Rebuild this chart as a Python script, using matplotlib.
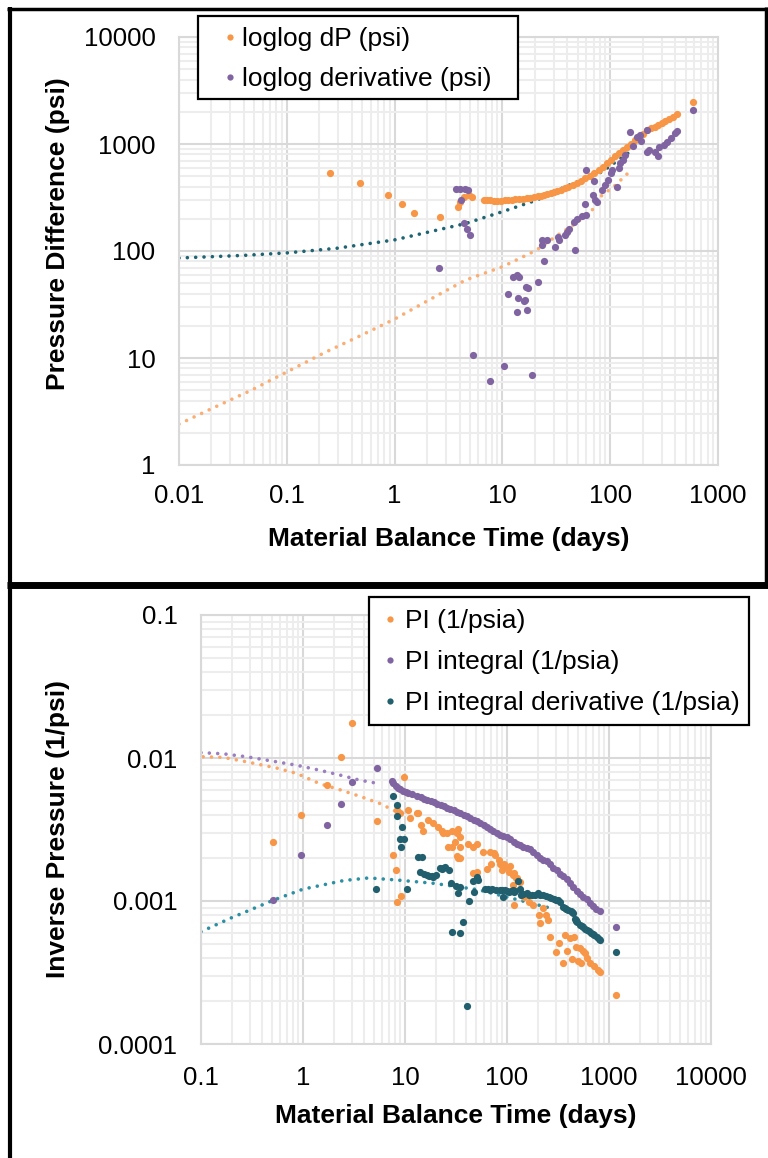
import matplotlib
matplotlib.use("Agg")
import matplotlib.pyplot as plt
from matplotlib.lines import Line2D
from matplotlib.patches import Rectangle

plt.rcParams['font.family'] = ['Liberation Sans', 'DejaVu Sans']

ORANGE = '#F79646'
PURPLE = '#8064A2'
TEAL = '#215F6E'

# ---------------- top chart data ----------------
dp_t = [0.25, 0.48, 0.86, 1.17, 1.51, 2.63, 3.85, 4.05, 4.37, 4.9, 5.2,
        6.7, 7.2, 7.7, 8.3, 9.0, 9.7, 10.5, 11.3, 12.2, 13.2, 14.3, 15.5,
        16.8, 18.2, 19.7, 21.2, 22.8, 24.5, 26, 28, 30, 32, 35, 38, 41, 45,
        49, 54, 59, 65, 71, 78, 85, 93, 101, 110, 120, 131, 143, 156, 170,
        186, 203, 220, 240, 260, 280, 300, 325, 350, 380, 414, 590]
dp_val = [532, 435, 333, 275, 228, 207, 259, 289, 322, 333, 322,
          300, 298, 297, 296, 296, 296, 297, 298, 300, 303, 306, 309,
          312, 316, 320, 325, 330, 336, 343, 350, 356, 362, 372, 385, 397, 412,
          430, 455, 480, 505, 535, 570, 615, 660, 710, 765, 820, 880, 945, 1010, 1080,
          1150, 1230, 1340, 1400, 1450, 1520, 1580, 1650, 1720, 1800, 1890, 2470]

der_t = [2.6, 3.73, 4.04, 4.5, 4.8, 4.15, 4.37, 4.67, 4.97, 5.3, 7.7, 10.4, 18.8,
         11.2, 12.5, 13.6, 14.4, 14.1, 16.6, 17.1, 13.7, 16.9, 16.1, 15.8,
         21.3, 24.2, 23.1, 26, 23.5, 30.5, 33.7, 33, 38, 39.4, 41.5, 46.5, 49.5,
         54.5, 60, 47.5, 58.7, 69, 71.6, 76, 70, 60, 84.5, 89.6, 96, 101, 103,
         116, 121, 124.6, 131, 138, 153, 163, 178, 187, 192, 221, 221, 231, 260,
         275, 286, 313, 338, 366, 395, 414, 590]
der_val = [69, 376, 376, 376, 372, 300, 182, 162, 141, 10.7, 6.1, 8.4, 6.9,
           39.6, 57.5, 60, 57.5, 36, 46.5, 44.7, 27.2, 28.2, 35, 34,
           51.7, 80, 126, 126, 114, 110, 126, 136, 140, 151, 162, 187, 197,
           213, 217, 102, 276, 334, 299, 288, 450, 566, 372, 417, 465, 532, 574,
           400, 592, 660, 710, 790, 1300, 960, 1170, 1220, 1070, 1350, 850, 880, 850,
           775, 945, 980, 1050, 1130, 1260, 1330, 2080]

# trendlines
dp_trend_t = [0.01, 0.0213, 0.0469, 0.0998, 0.227, 0.46, 1.0, 2.1, 4.55, 10.1,
              20.4, 33, 48.3, 68, 81, 108, 148]
dp_trend_val = [2.41, 3.46, 5.0, 7.4, 11.3, 15.8, 23.1, 35, 53.5, 71.5,
                101, 142, 182, 241, 322, 400, 540]
der_trend_t = [0.01, 0.04, 0.1, 0.29, 1.0, 2.1, 4.5, 10, 21, 30, 46, 84, 146]
der_trend_val = [86, 91, 96, 106, 127, 151, 180, 233, 300, 358, 430, 550, 820]

top_xticks = [0.01, 0.1, 1, 10, 100, 1000]
top_xlabels = ['0.01', '0.1', '1', '10', '100', '1000']
top_yticks = [1, 10, 100, 1000, 10000]
top_ylabels = ['1', '10', '100', '1000', '10000']

# ---------------- bottom chart data ----------------
pi_t = [0.51, 0.96, 1.71, 2.34, 3.04, 5.3, 9.8, 7.7, 8.2, 8.4, 9.2, 8.3, 8.9,
        10.8, 11.1, 13.0, 13.4, 14.5, 15, 16.9, 18.9, 21.1, 23, 23.7, 25.6, 28.6,
        32, 33.3, 34.6, 30.9, 28.6, 26.6, 34.6, 34.6, 33.3, 32.3, 41.7, 46.7,
        50.5, 58.6, 68.3, 76.6, 82.8, 92.9, 89.4, 108, 117, 126, 50.5, 46.6,
        63.2, 69, 75, 84.6, 96, 104, 114, 114, 123, 134, 117, 148, 166, 181,
        205, 223, 241, 251, 210, 266, 327, 302, 355, 370, 419, 454, 386, 436,
        473, 514, 557, 580, 493, 535, 605, 657, 713, 774, 820, 1166]
pi_val = [0.0026, 0.0040, 0.0065, 0.0101, 0.0177, 0.0036, 0.0074, 0.0021,
          0.00165, 0.00098, 0.00109, 0.0043, 0.0041, 0.0043, 0.0038, 0.0041,
          0.0041, 0.0034, 0.0031, 0.0037, 0.0035, 0.0033, 0.0031, 0.0030,
          0.0030, 0.0031, 0.0030, 0.0032, 0.0028, 0.0026, 0.0024, 0.0024,
          0.0024, 0.0020, 0.0020, 0.00205, 0.0025, 0.0024, 0.0025, 0.0022,
          0.0022, 0.0021, 0.00195, 0.0018, 0.00164, 0.00175, 0.00158, 0.00145,
          0.0016, 0.00158, 0.00168, 0.0018, 0.00217, 0.0018, 0.00173, 0.0016,
          0.00152, 0.0013, 0.00145, 0.00135, 0.00094, 0.00107, 0.00099, 0.00094,
          0.0008, 0.00089, 0.0008, 0.00074, 0.0007, 0.00056, 0.00051, 0.00044,
          0.00037, 0.00058, 0.00055, 0.00056, 0.00045, 0.00039, 0.00048, 0.00047,
          0.00045, 0.00043, 0.00038, 0.00037, 0.0004, 0.00037, 0.00035, 0.00033,
          0.00032, 0.00022]

pint_t = [0.51, 0.96, 1.71, 2.34, 3.04, 5.3,
          7.4, 7.7, 8.1, 8.5, 8.9, 9.5, 10.2, 10.6, 11.6, 13.2, 14.2, 15.3,
          16.5, 17.8, 19.2, 20.7, 22.3, 24.0, 25.8, 27.8, 30.0, 32.3, 34.8,
          37.5, 40.5, 43.6, 47.0, 50.7, 54.6, 58.9, 63.5, 68.4, 73.7, 79.5,
          85.7, 92.3, 99.5, 107, 116, 125, 135, 145, 156, 168, 181, 196, 211,
          227, 245, 264, 285, 307, 331, 356, 384, 414, 446, 481, 518, 558, 602,
          649, 699, 754, 812, 1166]
pint_val = [0.00101, 0.0021, 0.0034, 0.0048, 0.0068, 0.0085,
            0.0069, 0.0067, 0.0064, 0.0062, 0.0061, 0.0059, 0.0058, 0.0057,
            0.0056, 0.0054, 0.0053, 0.0052, 0.0051, 0.0050, 0.0049, 0.0048,
            0.0047, 0.0046, 0.0045, 0.0044, 0.0043, 0.0042, 0.0041, 0.0040,
            0.0039, 0.0038, 0.0037, 0.0036, 0.0035, 0.0034, 0.0033, 0.0032,
            0.0031, 0.0030, 0.0029, 0.00285, 0.0028, 0.0027, 0.0026, 0.0025,
            0.00245, 0.0024, 0.00235, 0.0023, 0.0022, 0.0021, 0.0020, 0.00195,
            0.0019, 0.0018, 0.0017, 0.00165, 0.00155, 0.0015, 0.00142, 0.00133,
            0.00125, 0.00118, 0.00112, 0.00106, 0.00103, 0.00097, 0.00092,
            0.00088, 0.00085, 0.00066]

pder_t = [5.2, 10.4, 40.5, 29, 34.9, 36.7, 42, 7.7, 8.4, 8.3, 9.3, 8.9, 9.8,
          9.1, 13.3, 14.8, 14.0, 15.5, 16.4, 17, 18.5, 19, 20.1, 21.9, 22.8,
          23.5, 24.8, 26.8, 28, 31.7, 33.1, 34.5, 46.1, 52, 47.8, 51, 61, 65,
          68, 72, 78, 85, 90, 96, 100, 104, 110, 114, 92, 117, 121, 133, 128,
          138, 145, 156, 165, 177, 188, 200, 212, 227, 240, 256, 270, 290, 300,
          314, 330, 352, 370, 380, 400, 420, 435, 440, 460, 470, 480, 490, 517,
          540, 560, 580, 610, 640, 670, 700, 720, 760, 790, 812, 1166]
pder_val = [0.00122, 0.00122, 0.000184, 0.00061, 0.0006, 0.00071, 0.001,
            0.0054, 0.0047, 0.0039, 0.0033, 0.0027, 0.0027, 0.0024, 0.00202,
            0.00202, 0.0016, 0.00155, 0.00153, 0.0015, 0.0015, 0.00148,
            0.00153, 0.0017, 0.00168, 0.0017, 0.00172, 0.00164, 0.00133,
            0.00127, 0.00113, 0.00125, 0.00137, 0.0014, 0.00116, 0.00148,
            0.00122, 0.00122, 0.0012, 0.00122, 0.0012, 0.0012, 0.0012, 0.00119,
            0.00118, 0.00116, 0.00118, 0.0012, 0.00106, 0.00116, 0.00117,
            0.00122, 0.00137, 0.0011, 0.00112, 0.00113, 0.0011, 0.0011, 0.00111,
            0.00113, 0.0011, 0.0011, 0.00108, 0.00106, 0.00105, 0.00103,
            0.00102, 0.00101, 0.00098, 0.00091, 0.0009, 0.00088, 0.00087,
            0.00085, 0.00084, 0.00083, 0.00075, 0.00074, 0.00072, 0.00071,
            0.00068, 0.00067, 0.00066, 0.00064, 0.00063, 0.00062, 0.0006,
            0.00059, 0.00058, 0.00056, 0.00054, 0.00053, 0.00044]

pi_trend_t = [0.105, 0.165, 0.281, 0.553, 0.867, 1.47, 2.3, 3.6, 5.7, 8.9]
pi_trend_val = [0.0102, 0.0101, 0.0094, 0.0085, 0.0078, 0.0066, 0.0060,
                0.0054, 0.0048, 0.0041]
pint_trend_t = [0.1, 0.165, 0.281, 0.553, 0.867, 1.47, 2.3, 3.6, 5.7]
pint_trend_val = [0.0109, 0.0107, 0.0102, 0.0094, 0.0089, 0.0082, 0.0076,
                  0.0070, 0.0066]
pder_trend_t = [0.1, 0.196, 0.525, 1.0, 2.5, 4.4, 8.5, 19, 52, 270]
pder_trend_val = [0.00061, 0.00076, 0.00102, 0.00121, 0.00139, 0.00145,
                  0.0014, 0.00133, 0.0012, 0.00089]

bot_xticks = [0.1, 1, 10, 100, 1000, 10000]
bot_xlabels = ['0.1', '1', '10', '100', '1000', '10000']
bot_yticks = [0.0001, 0.001, 0.01, 0.1]
bot_ylabels = ['0.0001', '0.001', '0.01', '0.1']

W, H = 768, 1158
fig = plt.figure(figsize=(W / 100, H / 100), dpi=100)


def style_axes(ax):
    ax.set_xscale('log')
    ax.set_yscale('log')
    ax.grid(True, which='major', color='#D9D9D9', lw=1.5, zorder=0)
    ax.grid(True, which='minor', color='#EDEDED', lw=1.5, zorder=0)
    ax.set_axisbelow(True)
    for s in ax.spines.values():
        s.set_color('#D9D9D9')
        s.set_linewidth(1.5)
    ax.tick_params(which='both', length=0, labelsize=18.5)


def dotted(ax, x, y, color):
    ax.plot(x, y, color=color, lw=2.6, linestyle=(0, (0.01, 2.3)),
            dash_capstyle='round', zorder=2)


def dots(ax, x, y, color):
    ax.plot(x, y, 'o', color=color, ms=5.2, mec='none', zorder=3)


def legend_box(x0, y0, x1, y1):
    fig.add_artist(Rectangle((x0 / W, 1 - y1 / H), (x1 - x0) / W, (y1 - y0) / H,
                             transform=fig.transFigure, facecolor='white',
                             edgecolor='black', lw=1.6, zorder=4))


def handle(color):
    return Line2D([], [], marker='o', ls='none', color=color, ms=4.5, mec='none')


# ---------- top ----------
ax1 = fig.add_axes([179 / W, 1 - 465 / H, 539 / W, 428 / H])
style_axes(ax1)
dotted(ax1, dp_trend_t, dp_trend_val, '#FAAE74')
dotted(ax1, der_trend_t, der_trend_val, '#1F6473')
dots(ax1, dp_t, dp_val, ORANGE)
dots(ax1, der_t, der_val, PURPLE)
ax1.set_xlim(0.01, 1000)
ax1.set_ylim(1, 10000)
ax1.set_xticks(top_xticks, top_xlabels)
ax1.set_yticks(top_yticks, top_ylabels)
ax1.tick_params(axis='x', pad=14)
ax1.tick_params(axis='y', pad=17)
ax1.set_xlabel('Material Balance Time (days)', fontsize=19, fontweight='bold')
ax1.set_ylabel('Pressure Difference (psi)', fontsize=19, fontweight='bold')
ax1.xaxis.set_label_coords(0.5, -0.145)
ax1.yaxis.set_label_coords(-0.202, 0.54)

legend_box(198, 16, 518, 99)
leg1 = fig.legend([handle(ORANGE), handle(PURPLE)],
                  ['loglog dP (psi)', 'loglog derivative (psi)'],
                  loc='upper left', bbox_to_anchor=(223.4 / W, 1 - 27 / H),
                  fontsize=19, frameon=False, borderpad=0, labelspacing=0.6,
                  handlelength=0.5, handletextpad=0.2, borderaxespad=0)
leg1.set_zorder(5)

# ---------- bottom ----------
ax2 = fig.add_axes([201 / W, 1 - 1044 / H, 510 / W, 429 / H])
style_axes(ax2)
dotted(ax2, pi_trend_t, pi_trend_val, '#F9A869')
dotted(ax2, pint_trend_t, pint_trend_val, '#9B7FC0')
dotted(ax2, pder_trend_t, pder_trend_val, '#2C8FA3')
dots(ax2, pi_t, pi_val, ORANGE)
dots(ax2, pint_t, pint_val, PURPLE)
dots(ax2, pder_t, pder_val, TEAL)
ax2.set_xlim(0.1, 10000)
ax2.set_ylim(0.0001, 0.1)
ax2.set_xticks(bot_xticks, bot_xlabels)
ax2.set_yticks(bot_yticks, bot_ylabels)
ax2.tick_params(axis='x', pad=16)
ax2.tick_params(axis='y', pad=17)
ax2.set_xlabel('Material Balance Time (days)', fontsize=19, fontweight='bold')
ax2.set_ylabel('Inverse Pressure (1/psi)', fontsize=19, fontweight='bold')
ax2.xaxis.set_label_coords(0.5, -0.140)
ax2.yaxis.set_label_coords(-0.257, 0.5)

legend_box(369, 597, 749, 725)
leg2 = fig.legend([handle(ORANGE), handle(PURPLE), handle(TEAL)],
                  ['PI (1/psia)', 'PI integral (1/psia)',
                   'PI integral derivative (1/psia)'],
                  loc='upper left', bbox_to_anchor=(382 / W, 1 - 609 / H),
                  fontsize=19, frameon=False, borderpad=0, labelspacing=0.64,
                  handlelength=0.6, handletextpad=0.27, borderaxespad=0)
leg2.set_zorder(5)

# ---------- panel borders ----------
def fig_line(x0, y0, x1, y1, lw):
    fig.add_artist(Line2D([x0 / W, x1 / W], [1 - y0 / H, 1 - y1 / H],
                          color='black', lw=lw, transform=fig.transFigure,
                          solid_capstyle='butt'))


fig_line(7, 9, W, 9, 2.5)
fig_line(9.5, 7, 9.5, H, 3)
fig_line(7, 584.5, W, 584.5, 5)
fig_line(765.5, 7, 765.5, 584, 2.5)

fig.savefig('out.png', dpi=100)
